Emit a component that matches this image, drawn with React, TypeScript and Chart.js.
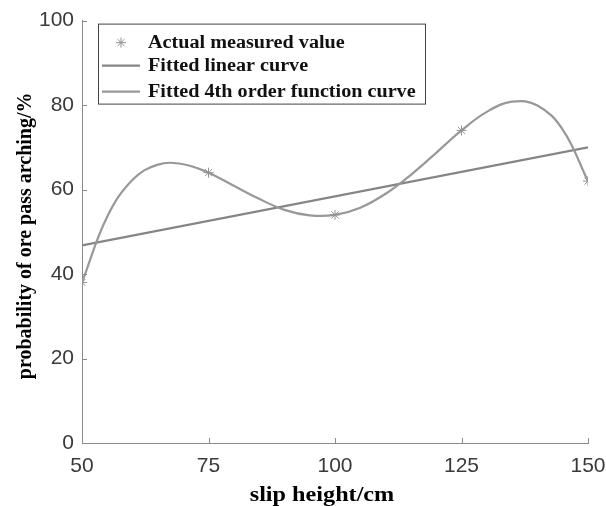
import React, { useEffect, useRef } from "react";
import { Chart, registerables } from "chart.js";

Chart.register(...registerables);

const measuredX = [50, 75, 100, 125, 150];
const measuredY = [38, 64, 54, 74, 62];
const linearX = [50, 150];
const linearY = [46.8, 70];
const quarticX = [50, 55, 60, 65, 70, 75, 80, 85, 90, 95, 100, 105, 110, 115, 120, 125, 130, 135, 140, 145, 150];
const quarticY = [38, 53.6, 62.3, 65.9, 66.0, 64, 60.9, 57.8, 55.2, 53.9, 54, 55.7, 59.0, 63.5, 68.7, 74, 78.4, 80.8, 79.9, 74.2, 62];
const xTicks = [50, 75, 100, 125, 150];
const yTicks = [0, 20, 40, 60, 80, 100];
const seriesLabels = ["Actual measured value", "Fitted linear curve", "Fitted 4th order function curve"];
const xTitle = "slip height/cm";
const yTitle = "probability of ore pass arching/%";

const AXIS = "#8a8a8a";
const SERIF = "'Liberation Serif', 'Times New Roman', serif";

function stretchedText(ctx: any, text: string, x: number, y: number, sx: number, align: string) {
  ctx.save();
  ctx.translate(x, y);
  ctx.scale(sx, 1);
  ctx.textAlign = align;
  ctx.fillText(text, 0, 0);
  ctx.restore();
}

const innerTicks = {
  id: "innerTicks",
  afterDatasetsDraw(chart: any) {
    const { ctx, chartArea, scales } = chart;
    ctx.save();
    ctx.strokeStyle = AXIS;
    ctx.lineWidth = 1;
    xTicks.forEach((v) => {
      const x = Math.round(scales.x.getPixelForValue(v)) + 0.5;
      ctx.beginPath();
      ctx.moveTo(x, chartArea.bottom);
      ctx.lineTo(x, chartArea.bottom - 5);
      ctx.stroke();
    });
    yTicks.forEach((v) => {
      const y = Math.round(scales.y.getPixelForValue(v)) + 0.5;
      ctx.beginPath();
      ctx.moveTo(chartArea.left, y);
      ctx.lineTo(chartArea.left + 5, y);
      ctx.stroke();
    });
    ctx.restore();
  },
};

const axisTitles = {
  id: "axisTitles",
  afterDraw(chart: any) {
    const { ctx, chartArea } = chart;
    ctx.save();
    ctx.fillStyle = "#000000";
    ctx.textBaseline = "middle";
    ctx.font = "bold 22px " + SERIF;
    stretchedText(ctx, xTitle, 322, 495, 1.1, "center");
    ctx.save();
    ctx.translate(26, (chartArea.top + chartArea.bottom) / 2 + 4);
    ctx.rotate(-Math.PI / 2);
    ctx.font = "bold 20px " + SERIF;
    ctx.textAlign = "center";
    ctx.fillText(yTitle, 0, 0);
    ctx.restore();
    ctx.restore();
  },
};

const boxLegend = {
  id: "boxLegend",
  afterDraw(chart: any) {
    const { ctx, chartArea } = chart;
    const left = chartArea.left + 16;
    const top = chartArea.top + 3;
    const w = 327;
    const h = 80;
    ctx.save();
    ctx.fillStyle = "#ffffff";
    ctx.fillRect(left, top, w, h);
    ctx.strokeStyle = "#444444";
    ctx.lineWidth = 1;
    ctx.strokeRect(left + 0.5, top + 0.5, w, h);
    const rows = [top + 19, top + 42, top + 68];
    const ds = chart.data.datasets;
    ctx.font = "bold 18px " + SERIF;
    ctx.textBaseline = "middle";
    ctx.fillStyle = "#111111";
    rows.forEach((ry, i) => {
      const d = ds[i];
      if (i === 0) {
        ctx.save();
        ctx.strokeStyle = d.borderColor;
        ctx.lineWidth = 1;
        const cx = left + 23;
        const r = 5;
        for (let k = 0; k < 4; k++) {
          const a = (k * Math.PI) / 4;
          ctx.beginPath();
          ctx.moveTo(cx - r * Math.cos(a), ry - r * Math.sin(a));
          ctx.lineTo(cx + r * Math.cos(a), ry + r * Math.sin(a));
          ctx.stroke();
        }
        ctx.restore();
      } else {
        ctx.save();
        ctx.strokeStyle = d.borderColor;
        ctx.lineWidth = 2.2;
        ctx.beginPath();
        ctx.moveTo(left + 4, ry);
        ctx.lineTo(left + 42, ry);
        ctx.stroke();
        ctx.restore();
      }
      stretchedText(ctx, d.label, left + 50, ry + 1, 1.12, "left");
    });
    ctx.restore();
  },
};

export default function App() {
  const ref = useRef<HTMLCanvasElement | null>(null);
  useEffect(() => {
    if (!ref.current) return;
    const chart = new Chart(ref.current, {
      type: "scatter",
      data: {
        datasets: [
          {
            label: seriesLabels[0],
            data: measuredX.map((x, i) => ({ x, y: measuredY[i] })),
            showLine: false,
            pointStyle: "star",
            radius: 5,
            borderColor: "#939393",
            backgroundColor: "#939393",
            borderWidth: 1,
            order: 0,
          },
          {
            label: seriesLabels[1],
            data: linearX.map((x, i) => ({ x, y: linearY[i] })),
            showLine: true,
            pointRadius: 0,
            borderColor: "#858585",
            borderWidth: 2.2,
            order: 2,
          },
          {
            label: seriesLabels[2],
            data: quarticX.map((x, i) => ({ x, y: quarticY[i] })),
            showLine: true,
            pointRadius: 0,
            tension: 0.4,
            borderColor: "#989898",
            borderWidth: 2.2,
            order: 1,
          },
        ],
      },
      plugins: [innerTicks, boxLegend, axisTitles],
      options: {
        animation: false,
        responsive: false,
        maintainAspectRatio: false,
        layout: { padding: { top: 0, right: 18, left: 0, bottom: 0 } },
        plugins: { legend: { display: false }, tooltip: { enabled: false } },
        scales: {
          x: {
            type: "linear",
            min: 50,
            max: 150,
            afterBuildTicks: (s: any) => {
              s.ticks = xTicks.map((v) => ({ value: v }));
            },
            afterFit: (s: any) => {
              s.height = 63;
              s.paddingRight = 0;
              s.paddingLeft = 0;
            },
            grid: { display: false, drawTicks: false },
            border: { display: true, color: AXIS, width: 1 },
            ticks: {
              padding: 11,
              color: "#3a3a3a",
              font: { family: "'Liberation Sans', Arial, sans-serif", size: 21 },
            },
          },
          y: {
            type: "linear",
            min: 0,
            max: 100,
            afterBuildTicks: (s: any) => {
              s.ticks = yTicks.map((v) => ({ value: v }));
            },
            afterFit: (s: any) => {
              s.width = 82;
            },
            grid: { display: false, drawTicks: false },
            border: { display: true, color: AXIS, width: 1 },
            ticks: {
              padding: 8,
              color: "#3a3a3a",
              font: { family: "'Liberation Sans', Arial, sans-serif", size: 21 },
            },
          },
        },
      },
    });
    return () => chart.destroy();
  }, []);
  return (
    <div style={{ position: "fixed", left: 0, top: 0, width: 606, height: 506 }}>
      <canvas ref={ref} width={606} height={506} style={{ display: "block" }} />
    </div>
  );
}
